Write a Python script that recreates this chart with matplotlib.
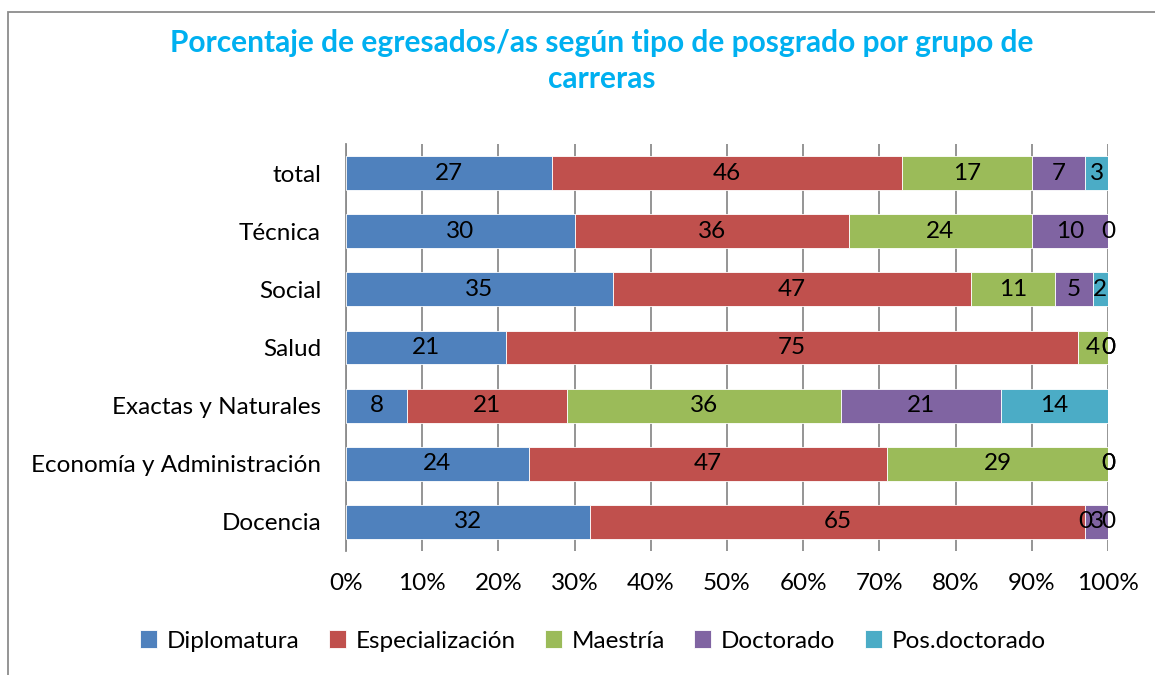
import matplotlib
matplotlib.use("Agg")
import matplotlib.pyplot as plt
from matplotlib.patches import Rectangle
import numpy as np

categories = ["Docencia", "Economía y Administración", "Exactas y Naturales",
              "Salud", "Social", "Técnica", "total"]
series_names = ["Diplomatura", "Especialización", "Maestría", "Doctorado", "Pos.doctorado"]
diplomatura = [32, 24, 8, 21, 35, 30, 27]
especializacion = [65, 47, 21, 75, 47, 36, 46]
maestria = [0, 29, 36, 4, 11, 24, 17]
doctorado = [3, 0, 21, 0, 5, 10, 7]
posdoctorado = [0, 0, 14, 0, 2, 0, 3]
xtick_labels = ["0%", "10%", "20%", "30%", "40%", "50%", "60%", "70%", "80%", "90%", "100%"]

colors = ["#4F81BD", "#C0504D", "#9BBB59", "#8064A2", "#4BACC6"]
plt.rcParams['font.family'] = ['Lato', 'DejaVu Sans']
FS = 17.5

fig = plt.figure(figsize=(11.55, 6.75), dpi=100)
ax = fig.add_axes([346/1155, 1-551/675, (1108-346)/1155, (551-144)/675])

data = np.array([diplomatura, especializacion, maestria, doctorado, posdoctorado], dtype=float)
totals = data.sum(axis=0)
pct = data / totals * 100
y = np.arange(len(categories))
left = np.zeros(len(categories))
for i, name in enumerate(series_names):
    ax.barh(y, pct[i], left=left, height=0.58, color=colors[i],
            edgecolor="white", linewidth=0.6, label=name, zorder=3)
    for j in range(len(categories)):
        ax.text(left[j] + pct[i][j] / 2, y[j], f"{int(data[i][j])}",
                ha="center", va="center", fontsize=FS, color="black", zorder=4)
    left += pct[i]

ax.set_xlim(0, 100)
ax.set_ylim(-0.5, len(categories) - 0.5)
ax.set_xticks(np.arange(0, 101, 10))
ax.set_xticklabels(xtick_labels, fontsize=FS)
ax.set_yticks(y)
ax.set_yticklabels(categories, fontsize=FS)
ax.tick_params(axis="x", length=0, pad=16)
ax.tick_params(axis="y", length=0, pad=18)
ax.grid(axis="x", color="#8C8C8C", linewidth=1.3, zorder=0)
for s in ["top", "right", "bottom"]:
    ax.spines[s].set_visible(False)
ax.spines["left"].set_color("#8C8C8C")
ax.spines["left"].set_linewidth(1.3)

fig.text(602/1155, 1-43/675, "Porcentaje de egresados/as según tipo de posgrado por grupo de",
         ha="center", va="center", fontsize=21.5, fontweight="bold", color="#00B0F0")
fig.text(602/1155, 1-79/675, "carreras",
         ha="center", va="center", fontsize=21.5, fontweight="bold", color="#00B0F0")

handles, labels = ax.get_legend_handles_labels()
fig.legend(handles, labels, loc="center", bbox_to_anchor=(593/1155, 1-641/675), ncol=5,
           frameon=False, fontsize=FS, handlelength=0.7, handleheight=0.7,
           handletextpad=0.4, columnspacing=1.2)

fig.patches.append(Rectangle((8/1155, -0.1), 1.2, 1.1 - 12/675, transform=fig.transFigure,
                             fill=False, edgecolor="#8C8C8C", linewidth=1.3))
fig.savefig("out.png", dpi=100)
